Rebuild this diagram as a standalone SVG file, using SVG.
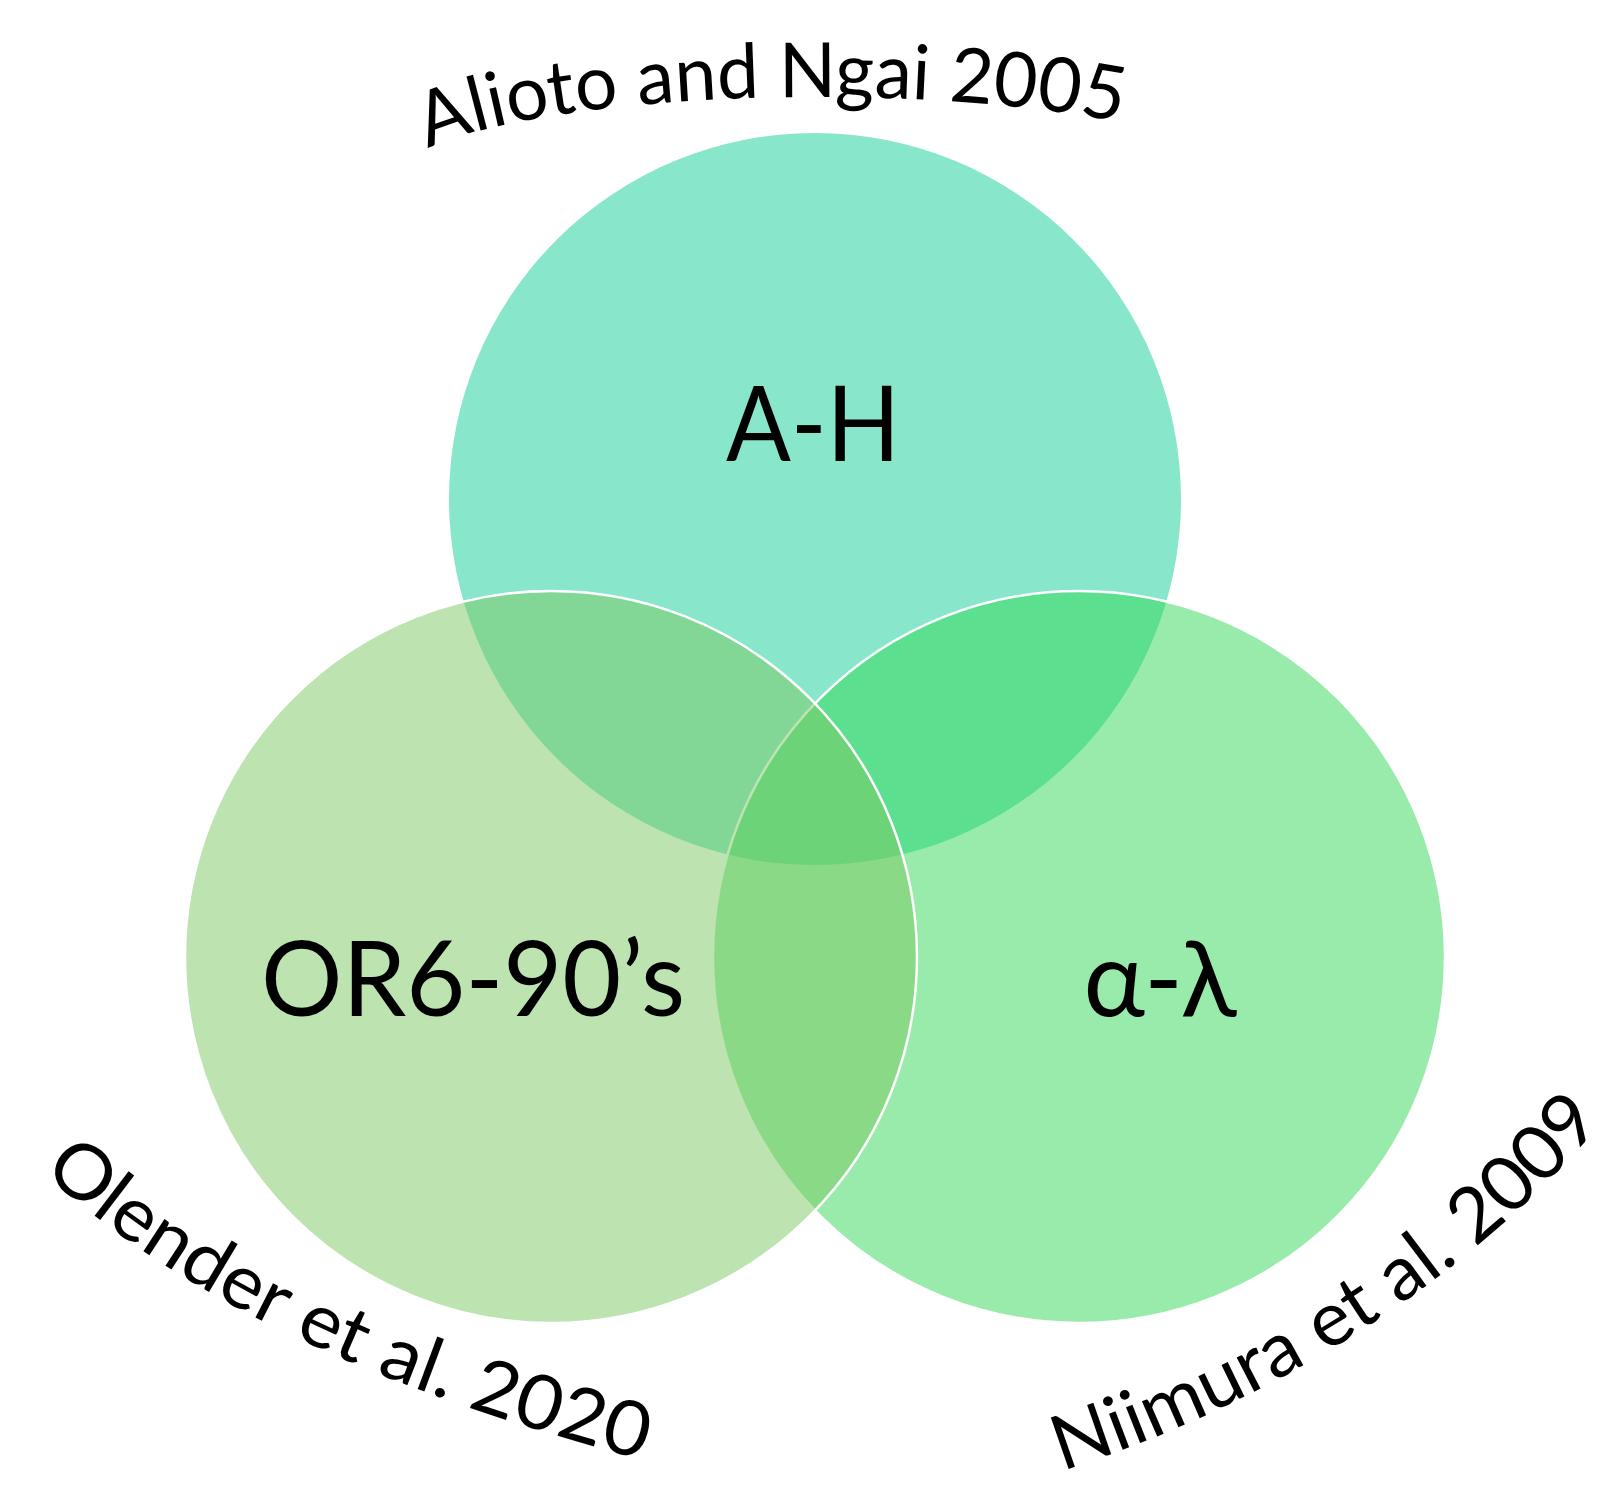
<svg xmlns="http://www.w3.org/2000/svg" width="1618" height="1497" viewBox="0 0 1618 1497">
  <style>
    .lbl { font-family: Lato, "Noto Sans", "DejaVu Sans", sans-serif; fill: #000000; }
    .arc { font-size: 76px; }
    .big { font-size: 104px; }
  </style>
  <defs>
    <path id="pTop" d="M 428,149.3 A 420 83 0 0 1 1200,145.5"/>
    <path id="pLeft" d="M 42,1172 C 213,1326 437.5,1405 650,1462 L 700,1475"/>
    <path id="pRight" d="M 1062,1471 C 1270,1404 1468,1282 1604,1120"/>
  </defs>
  <rect width="1618" height="1497" fill="#ffffff"/>
  <g id="circle-top">
    <circle cx="815" cy="499" r="366" fill="#11CD97" fill-opacity="0.5"/>
  </g>
  <g id="circle-right">
    <circle cx="1079" cy="957" r="366" fill="#31D755" fill-opacity="0.5" stroke="#ffffff" stroke-width="2.5"/>
  </g>
  <g id="circle-left">
    <circle cx="551" cy="957" r="366" fill="#7BC761" fill-opacity="0.5" stroke="#ffffff" stroke-width="2.5"/>
  </g>
  <g id="connectors"/>
  <g id="label-top">
    <text class="lbl arc"><textPath href="#pTop" textLength="700" lengthAdjust="spacingAndGlyphs">Alioto and Ngai 2005</textPath></text>
  </g>
  <g id="label-left">
    <text class="lbl arc"><textPath href="#pLeft" textLength="672" lengthAdjust="spacingAndGlyphs">Olender et al. 2020</textPath></text>
  </g>
  <g id="label-right">
    <text class="lbl arc"><textPath href="#pRight" textLength="652" lengthAdjust="spacingAndGlyphs">Niimura et al. 2009</textPath></text>
  </g>
  <g id="text-top">
    <text class="lbl big" x="813" y="461" text-anchor="middle" textLength="174" lengthAdjust="spacingAndGlyphs">A-H</text>
  </g>
  <g id="text-left">
    <text class="lbl big" x="473" y="1016" text-anchor="middle" textLength="424" lengthAdjust="spacingAndGlyphs">OR6-90’s</text>
  </g>
  <g id="text-right">
    <text class="lbl big" x="1160" y="1016" text-anchor="middle">α-λ</text>
  </g>
</svg>
